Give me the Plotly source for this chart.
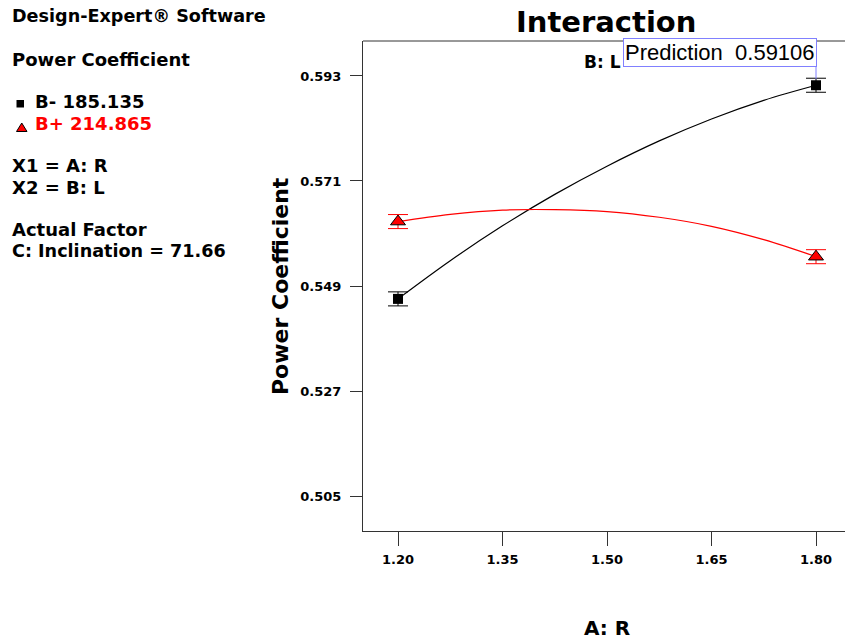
import plotly.graph_objects as go

# ---------------- data ----------------
A_levels = [1.20, 1.80]
B_minus_pts = [0.5463, 0.59106]
B_plus_pts = [0.5625, 0.55514]
err_half = [0.00147, 0.00147]

curve_x = [1.20, 1.275, 1.35, 1.425, 1.50, 1.575, 1.65, 1.725, 1.80]
B_minus_curve = [0.5463, 0.5543, 0.5616, 0.5682, 0.5741, 0.5794, 0.5840, 0.5879, 0.59106]
B_plus_curve = [0.5625, 0.5640, 0.5649, 0.5650, 0.5646, 0.5634, 0.5615, 0.5587, 0.55514]

x_ticks = [1.20, 1.35, 1.50, 1.65, 1.80]
x_ticklabels = ["1.20", "1.35", "1.50", "1.65", "1.80"]
y_ticks = [0.505, 0.527, 0.549, 0.571, 0.593]
y_ticklabels = ["0.505", "0.527", "0.549", "0.571", "0.593"]

prediction_value = 0.59106

# ---------------- layout geometry ----------------
W, H = 845, 642
L, R, T, B = 363, 0, 41, 111
PW, PH = W - L - R, H - T - B

def px(xp):
    return (xp - L) / PW

def py(yp):
    return (H - B - yp) / PH

FONT = "DejaVu Sans"

fig = go.Figure()

fig.add_trace(go.Scatter(x=curve_x, y=B_minus_curve, mode="lines",
                         line=dict(color="black", width=1.2, shape="spline"),
                         hoverinfo="skip", showlegend=False))
fig.add_trace(go.Scatter(x=curve_x, y=B_plus_curve, mode="lines",
                         line=dict(color="red", width=1.2, shape="spline"),
                         hoverinfo="skip", showlegend=False))

fig.add_trace(go.Scatter(x=A_levels, y=B_minus_pts, mode="markers",
                         marker=dict(symbol="square", size=10, color="black"),
                         error_y=dict(type="data", array=err_half, color="black",
                                      thickness=1, width=10),
                         showlegend=False))
fig.add_trace(go.Scatter(x=A_levels, y=B_plus_pts, mode="markers",
                         marker=dict(symbol="triangle-up", size=13, color="red",
                                     line=dict(color="black", width=1)),
                         error_y=dict(type="data", array=err_half, color="red",
                                      thickness=1, width=10),
                         showlegend=False))

ann = []

def txt(text, xp, yp, size, color="black", xanchor="left", bold=True, family=FONT):
    ann.append(dict(text=text, xref="paper", yref="paper", x=px(xp), y=py(yp),
                    xanchor=xanchor, yanchor="middle", showarrow=False,
                    font=dict(family=family, size=size, color=color,
                              weight="bold" if bold else "normal")))

txt("Design-Expert® Software", 10, 16, 17.6)
txt("Power Coefficient", 10, 59, 18)
txt("B- 185.135", 33, 101, 18)
txt("B+ 214.865", 33, 123, 18, color="red")
txt("X1 = A: R", 10, 166, 18)
txt("X2 = B: L", 10, 187, 18)
txt("Actual Factor", 10, 230, 18)
txt("C: Inclination = 71.66", 10, 251, 17.6)

txt("Interaction", 606, 22, 29, xanchor="center")
txt("B: L", 582, 62, 17)
txt("A: R", 607, 628, 20, xanchor="center")

ann.append(dict(text="Power Coefficient", xref="paper", yref="paper",
                x=px(280), y=py(286), textangle=-90, showarrow=False,
                xanchor="center", yanchor="middle",
                font=dict(family=FONT, size=22, color="black", weight="bold")))

# prediction box
ann.append(dict(text="Prediction  " + f"{prediction_value:.5f}", xref="paper", yref="paper",
                x=px(816.5), y=py(52), xanchor="right", yanchor="middle",
                showarrow=False, bgcolor="white", bordercolor="#8080ff",
                borderwidth=1, borderpad=1,
                font=dict(family="Liberation Sans", size=22, color="black")))

shapes = [
    # top border
    dict(type="line", xref="paper", yref="paper", x0=0, x1=1, y0=1, y1=1,
         line=dict(color="#333333", width=1)),
    # connector from prediction box to point
    dict(type="line", xref="x", yref="paper", x0=1.80, x1=1.80,
         y0=py(65), y1=py(79), line=dict(color="#8080ff", width=1)),
    # legend square
    dict(type="rect", xref="paper", yref="paper", x0=px(16.5), x1=px(24),
         y0=py(107.5), y1=py(100), fillcolor="black", line=dict(width=0)),
    # legend triangle
    dict(type="path", xref="paper", yref="paper",
         path=f"M {px(16.5)} {py(131.5)} L {px(27)} {py(131.5)} L {px(21.75)} {py(123)} Z",
         fillcolor="red", line=dict(color="black", width=1)),
]

fig.update_layout(
    width=W, height=H,
    margin=dict(l=L, r=R, t=T, b=B, autoexpand=False),
    plot_bgcolor="white", paper_bgcolor="white",
    annotations=ann, shapes=shapes, showlegend=False,
    xaxis=dict(range=[1.14976, 1.84162], tickvals=x_ticks, ticktext=x_ticklabels,
               showgrid=False, zeroline=False, showline=True, linecolor="#333333",
               linewidth=1, ticks="outside", ticklen=14, tickcolor="#333333",
               tickfont=dict(family=FONT, size=13, color="black", weight="bold"),
               ticklabelstandoff=2, automargin=False),
    yaxis=dict(range=[0.49767, 0.60033], tickvals=y_ticks, ticktext=y_ticklabels,
               showgrid=False, zeroline=False, showline=True, linecolor="#333333",
               linewidth=1, ticks="outside", ticklen=12, tickcolor="#333333",
               tickfont=dict(family=FONT, size=13, color="black", weight="bold"),
               ticklabelstandoff=6, automargin=False),
)

fig.write_html("out.html")
